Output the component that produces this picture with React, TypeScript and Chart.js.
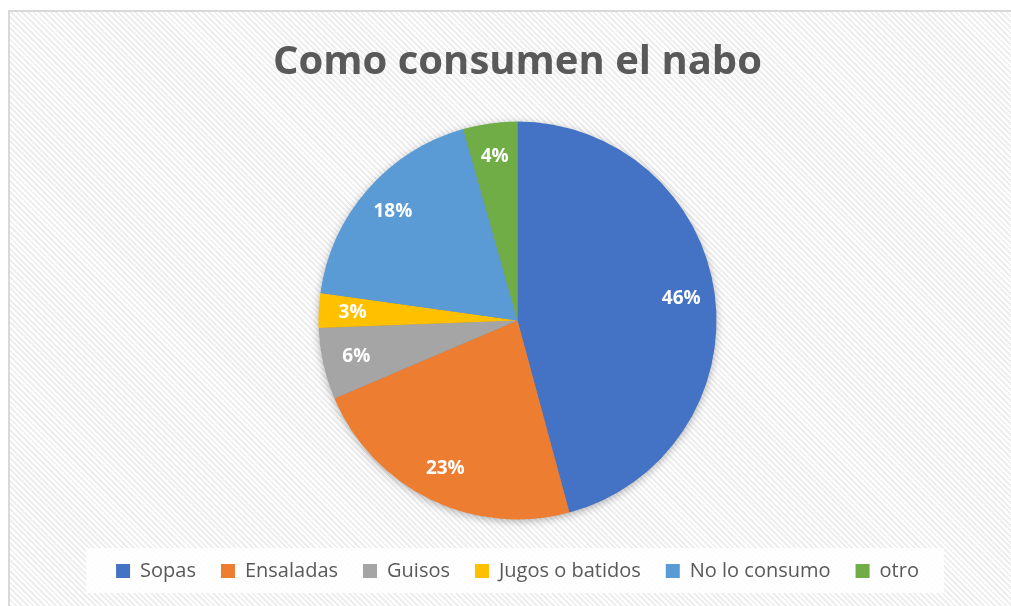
import React, { useEffect, useRef } from "react";
import { Chart, registerables } from "chart.js";

Chart.register(...registerables);

const TITLE = "Como consumen el nabo";
const categories = ["Sopas", "Ensaladas", "Guisos", "Jugos o batidos", "No lo consumo", "otro"];
const values = [45.8, 22.8, 5.8, 2.8, 18.4, 4.4];
const labels = ["46%", "23%", "6%", "3%", "18%", "4%"];
const colors = ["#4472C4", "#ED7D31", "#A5A5A5", "#FFC000", "#5B9BD5", "#70AD47"];

const FONT = "'Open Sans', 'Liberation Sans', sans-serif";

const pieShadow = {
  id: "pieShadow",
  beforeDatasetsDraw(chart: any) {
    const meta = chart.getDatasetMeta(0);
    const arc = meta.data[0];
    if (!arc) return;
    const { x, y, outerRadius } = arc.getProps(["x", "y", "outerRadius"], true);
    const ctx = chart.ctx;
    ctx.save();
    ctx.shadowColor = "rgba(0,0,0,0.35)";
    ctx.shadowBlur = 10;
    ctx.shadowOffsetX = 0;
    ctx.shadowOffsetY = 2;
    ctx.fillStyle = "#888";
    ctx.beginPath();
    ctx.arc(x, y, outerRadius - 1, 0, Math.PI * 2);
    ctx.fill();
    ctx.restore();
  },
};

const sliceLabels = {
  id: "sliceLabels",
  afterDatasetsDraw(chart: any) {
    const meta = chart.getDatasetMeta(0);
    const ctx = chart.ctx;
    ctx.save();
    ctx.fillStyle = "#ffffff";
    ctx.font = `bold 19px ${FONT}`;
    ctx.textAlign = "center";
    ctx.textBaseline = "middle";
    meta.data.forEach((arc: any, i: number) => {
      const { x, y, startAngle, endAngle, outerRadius } = arc.getProps(
        ["x", "y", "startAngle", "endAngle", "outerRadius"],
        true
      );
      const mid = (startAngle + endAngle) / 2;
      const r = outerRadius * 0.83;
      ctx.fillText(labels[i], x + Math.cos(mid) * r, y + Math.sin(mid) * r);
    });
    ctx.restore();
  },
};

const legendBox = {
  id: "legendBox",
  beforeDraw(chart: any) {
    const lg = chart.legend;
    if (!lg || !lg.legendHitBoxes || !lg.legendHitBoxes.length) return;
    const boxes = lg.legendHitBoxes;
    const left = Math.min(...boxes.map((b: any) => b.left)) - 30;
    const right = Math.max(...boxes.map((b: any) => b.left + b.width)) + 25;
    const ctx = chart.ctx;
    ctx.save();
    ctx.fillStyle = "rgba(255,255,255,0.85)";
    ctx.fillRect(left, 548, right - left, 45);
    ctx.restore();
  },
};

export default function App() {
  const ref = useRef<HTMLCanvasElement | null>(null);
  useEffect(() => {
    if (!ref.current) return;
    const chart = new Chart(ref.current, {
      type: "pie",
      data: {
        labels: categories,
        datasets: [
          {
            data: values,
            backgroundColor: colors,
            borderWidth: 0,
            radius: 199,
          },
        ],
      },
      options: {
        animation: false,
        responsive: false,
        layout: { padding: { left: 24, right: 0, top: 0, bottom: 15 } },
        plugins: {
          tooltip: { enabled: false },
          title: {
            display: true,
            text: TITLE,
            color: "#595959",
            font: { family: FONT, size: 40, weight: "bold" },
            padding: { top: 39, bottom: 18 },
          },
          legend: {
            position: "bottom",
            labels: {
              color: "#595959",
              font: { family: FONT, size: 20 },
              boxWidth: 14,
              boxHeight: 14,
              padding: 25,
            },
          },
        },
      },
      plugins: [legendBox, pieShadow, sliceLabels],
    });
    return () => chart.destroy();
  }, []);

  return (
    <div style={{ position: "fixed", left: 0, top: 0, width: 1011, height: 606, overflow: "hidden", background: "#fff" }}>
      <div
        style={{
          position: "absolute",
          left: 8,
          top: 10,
          width: 1020,
          height: 620,
          border: "2px solid #d9d9d9",
          background: "repeating-linear-gradient(45deg, #ffffff 0px, #ffffff 2px, #eeeeee 2px, #eeeeee 4px)",
        }}
      />
      <canvas ref={ref} width={1011} height={606} style={{ position: "absolute", left: 0, top: 0 }} />
    </div>
  );
}
